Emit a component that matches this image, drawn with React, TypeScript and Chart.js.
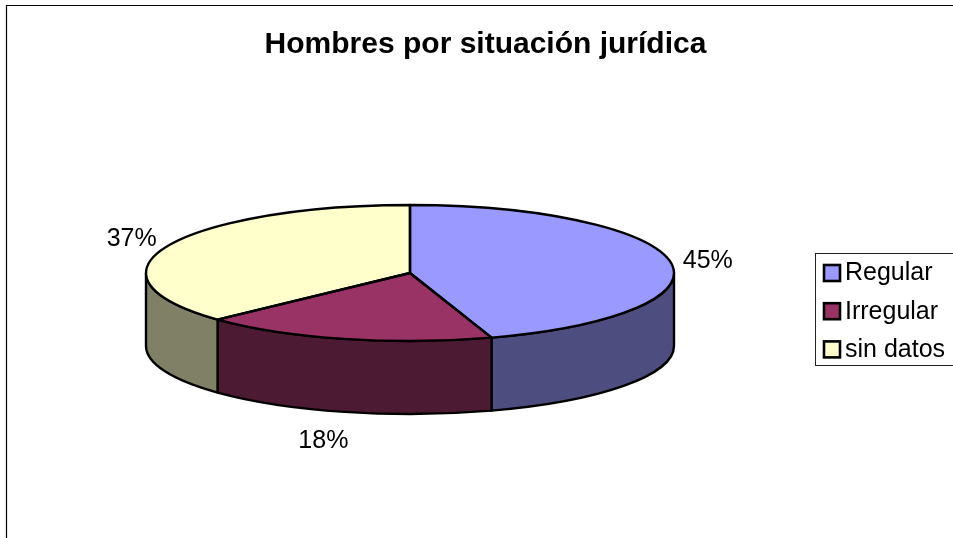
import React, { useEffect, useRef } from "react";
import { Chart, registerables } from "chart.js";

Chart.register(...registerables);

const titleText = "Hombres por situación jurídica";
const categories = ["Regular", "Irregular", "sin datos"];
const values = [45, 18, 37];
const topColors = ["#9999FF", "#993366", "#FFFFCC"];
const sideColors = ["#4D4D80", "#4D1A33", "#808066"];
const percentLabels = ["45%", "18%", "37%"];

const FONT = '"Liberation Sans", Arial, sans-serif';
const SQUASH = 68 / 264;
const DEPTH = 73;
const LINE = 2.4;
const LABEL_SHIFT: [number, number][] = [[37, -1], [-21, 102], [-36, -7]];

const frameAndLegend = {
  id: "frameAndLegend",
  beforeDraw(chart: any) {
    const { ctx, width, height } = chart;
    ctx.save();
    ctx.strokeStyle = "#000";
    ctx.lineWidth = 1.2;
    ctx.beginPath();
    ctx.moveTo(6.5, height);
    ctx.lineTo(6.5, 5.5);
    ctx.lineTo(width, 5.5);
    ctx.stroke();
    ctx.restore();
  },
  afterDraw(chart: any) {
    const { ctx, width } = chart;
    ctx.save();
    ctx.strokeStyle = "#222";
    ctx.lineWidth = 1;
    ctx.strokeRect(815.5, 253.5, width, 112);
    ctx.font = `25px ${FONT}`;
    ctx.textBaseline = "middle";
    ctx.textAlign = "left";
    categories.forEach((name, i) => {
      const y = 272.5 + i * 38.2;
      ctx.fillStyle = topColors[i];
      ctx.strokeStyle = "#000";
      ctx.lineWidth = 2.6;
      ctx.fillRect(824, y - 7.5, 16, 16);
      ctx.strokeRect(824, y - 7.5, 16, 16);
      ctx.fillStyle = "#000";
      ctx.fillText(name, 845, y + 1);
    });
    ctx.restore();
  },
};

const pie3d = {
  id: "pie3d",
  afterLayout(chart: any) {
    chart.titleBlock.left += 75.5;
    chart.titleBlock.right += 75.5;
  },
  beforeDatasetDraw(chart: any, args: any) {
    const { ctx } = chart;
    const arcs = chart.getDatasetMeta(args.index).data;
    const first = arcs[0];
    const cx = first.x;
    const cy = first.y;
    const rx = first.outerRadius;
    const ry = rx * SQUASH;
    ctx.save();
    ctx.lineWidth = LINE;
    ctx.strokeStyle = "#000";
    ctx.lineJoin = "round";
    arcs.forEach((arc: any, i: number) => {
      const a = Math.max(arc.startAngle, 0);
      const b = Math.min(arc.endAngle, Math.PI);
      if (b <= a) return;
      ctx.beginPath();
      ctx.ellipse(cx, cy, rx, ry, 0, a, b);
      ctx.ellipse(cx, cy + DEPTH, rx, ry, 0, b, a, true);
      ctx.closePath();
      ctx.fillStyle = sideColors[i];
      ctx.fill();
      ctx.stroke();
    });
    ctx.restore();
    ctx.save();
    ctx.translate(cx, cy);
    ctx.scale(1, SQUASH);
    ctx.translate(-cx, -cy);
  },
  afterDatasetDraw(chart: any, args: any) {
    const { ctx } = chart;
    ctx.restore();
    const arcs = chart.getDatasetMeta(args.index).data;
    ctx.save();
    ctx.lineWidth = LINE;
    ctx.strokeStyle = "#000";
    ctx.lineJoin = "round";
    arcs.forEach((arc: any) => {
      const rx = arc.outerRadius;
      ctx.beginPath();
      ctx.moveTo(arc.x, arc.y);
      ctx.ellipse(arc.x, arc.y, rx, rx * SQUASH, 0, arc.startAngle, arc.endAngle);
      ctx.closePath();
      ctx.stroke();
    });
    ctx.fillStyle = "#000";
    ctx.font = `25px ${FONT}`;
    ctx.textAlign = "center";
    ctx.textBaseline = "middle";
    arcs.forEach((arc: any, i: number) => {
      const mid = (arc.startAngle + arc.endAngle) / 2;
      const x = arc.x + arc.outerRadius * Math.cos(mid);
      const y = arc.y + arc.outerRadius * SQUASH * Math.sin(mid);
      ctx.fillText(percentLabels[i], x + LABEL_SHIFT[i][0], y + LABEL_SHIFT[i][1]);
    });
    ctx.restore();
  },
};

export default function App() {
  const ref = useRef<HTMLCanvasElement>(null);
  useEffect(() => {
    const chart = new Chart(ref.current!, {
      type: "pie",
      data: {
        labels: categories,
        datasets: [
          {
            data: values,
            backgroundColor: topColors,
            borderWidth: 0,
            radius: 264,
            clip: false,
          } as any,
        ],
      },
      options: {
        responsive: false,
        animation: false,
        layout: { padding: { left: 146, right: 279, top: 0, bottom: 55 } },
        plugins: {
          legend: { display: false },
          tooltip: { enabled: false },
          title: {
            display: true,
            text: titleText,
            color: "#000",
            font: { family: FONT, size: 30, weight: "bold" },
            padding: { top: 27, bottom: 0 },
          },
        },
      },
      plugins: [frameAndLegend, pie3d],
    });
    return () => chart.destroy();
  }, []);
  return (
    <canvas
      ref={ref}
      width={953}
      height={538}
      style={{ position: "absolute", left: 0, top: 0, display: "block", width: 953, height: 538 }}
    />
  );
}
